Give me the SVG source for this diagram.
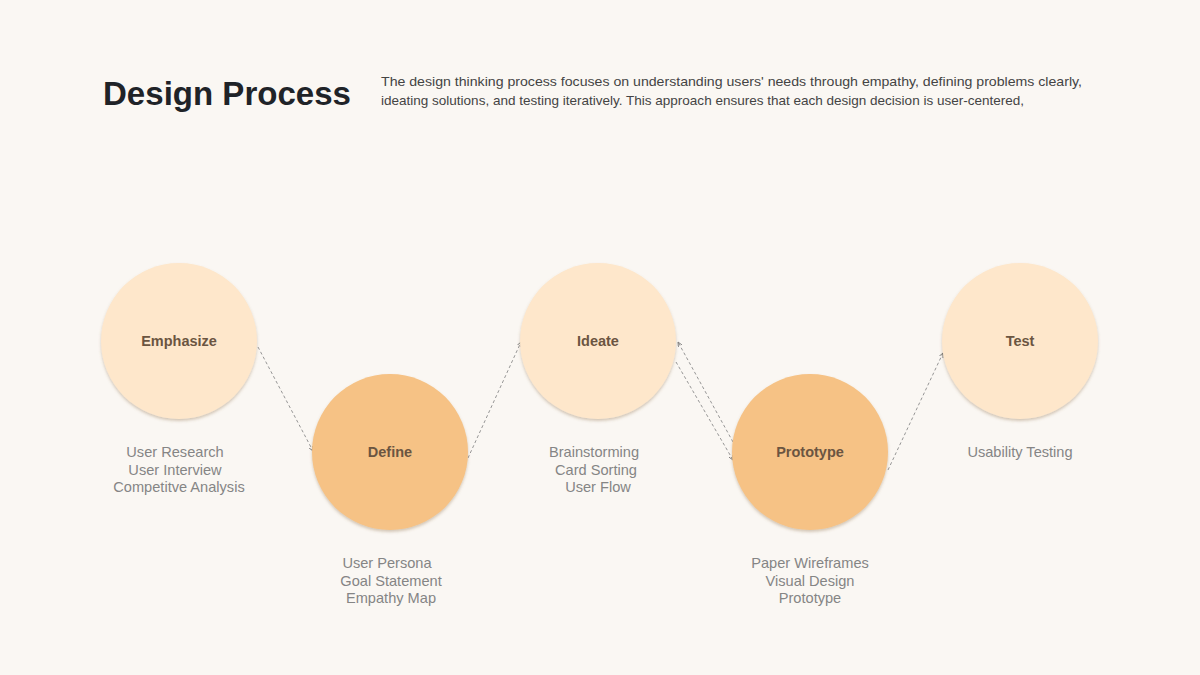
<svg xmlns="http://www.w3.org/2000/svg" width="1200" height="675" viewBox="0 0 1200 675">
  <style>
    .title { font-family: "Liberation Sans", Arial, sans-serif; font-weight: 700; font-size: 34px; fill: #1f2328; }
    .desc { font-family: "Liberation Sans", Arial, sans-serif; font-size: 13px; fill: #444444; }
    .node-label { font-family: "Liberation Sans", Arial, sans-serif; font-weight: 700; font-size: 14.5px; fill: #6b5541; text-anchor: middle; }
    .sub { font-family: "Liberation Sans", Arial, sans-serif; font-size: 14.6px; fill: #858585; text-anchor: middle; }
    .light { fill: #fee7cb; }
    .dark { fill: #f6c285; }
    .conn { fill: none; stroke: #8a8a8a; stroke-width: 0.9; stroke-dasharray: 3 2.5; }
  </style>
  <defs>
    <filter id="soft" x="-20%" y="-20%" width="140%" height="145%">
      <feDropShadow dx="0" dy="2" stdDeviation="1.6" flood-color="#8a6a45" flood-opacity="0.35"/>
    </filter>
    <marker id="arrow" viewBox="0 0 6 6" refX="5.5" refY="3" markerWidth="5" markerHeight="5" orient="auto-start-reverse" markerUnits="userSpaceOnUse">
      <path d="M0,0.5 L5.5,3 L0,5.5" fill="none" stroke="#777" stroke-width="1"/>
    </marker>
  </defs>

  <rect width="1200" height="675" fill="#faf7f3"/>

  <g id="header">
    <text class="title" x="103" y="105" textLength="248" lengthAdjust="spacingAndGlyphs">Design Process</text>
    <text class="desc" x="381" y="86" textLength="701" lengthAdjust="spacingAndGlyphs">The design thinking process focuses on understanding users' needs through empathy, defining problems clearly,</text>
    <text class="desc" x="381" y="105" textLength="643" lengthAdjust="spacingAndGlyphs">ideating solutions, and testing iteratively. This approach ensures that each design decision is user-centered,</text>
  </g>

  <g id="connectors">
    <line class="conn" x1="258" y1="347" x2="313" y2="451" marker-end="url(#arrow)"/>
    <line class="conn" x1="468" y1="458" x2="521" y2="342" marker-end="url(#arrow)"/>
    <line class="conn" x1="733" y1="442" x2="678" y2="342" marker-end="url(#arrow)"/>
    <line class="conn" x1="676" y1="362" x2="733" y2="460" marker-end="url(#arrow)"/>
    <line class="conn" x1="888" y1="470" x2="943" y2="353" marker-end="url(#arrow)"/>
  </g>

  <g id="node-emphasize">
    <circle class="light" cx="179" cy="341" r="78" filter="url(#soft)"/>
    <text class="node-label" x="179" y="346">Emphasize</text>
    <text class="sub" x="175" y="457">User Research</text>
    <text class="sub" x="175" y="475">User Interview</text>
    <text class="sub" x="179" y="492">Competitve Analysis</text>
  </g>

  <g id="node-define">
    <circle class="dark" cx="390" cy="452" r="78" filter="url(#soft)"/>
    <text class="node-label" x="390" y="457">Define</text>
    <text class="sub" x="387" y="568">User Persona</text>
    <text class="sub" x="391" y="586">Goal Statement</text>
    <text class="sub" x="391" y="603">Empathy Map</text>
  </g>

  <g id="node-ideate">
    <circle class="light" cx="598" cy="341" r="78" filter="url(#soft)"/>
    <text class="node-label" x="598" y="346">Ideate</text>
    <text class="sub" x="594" y="457">Brainstorming</text>
    <text class="sub" x="596" y="475">Card Sorting</text>
    <text class="sub" x="598" y="492">User Flow</text>
  </g>

  <g id="node-prototype">
    <circle class="dark" cx="810" cy="452" r="78" filter="url(#soft)"/>
    <text class="node-label" x="810" y="457">Prototype</text>
    <text class="sub" x="810" y="568">Paper Wireframes</text>
    <text class="sub" x="810" y="586">Visual Design</text>
    <text class="sub" x="810" y="603">Prototype</text>
  </g>

  <g id="node-test">
    <circle class="light" cx="1020" cy="341" r="78" filter="url(#soft)"/>
    <text class="node-label" x="1020" y="346">Test</text>
    <text class="sub" x="1020" y="457">Usability Testing</text>
  </g>
</svg>
